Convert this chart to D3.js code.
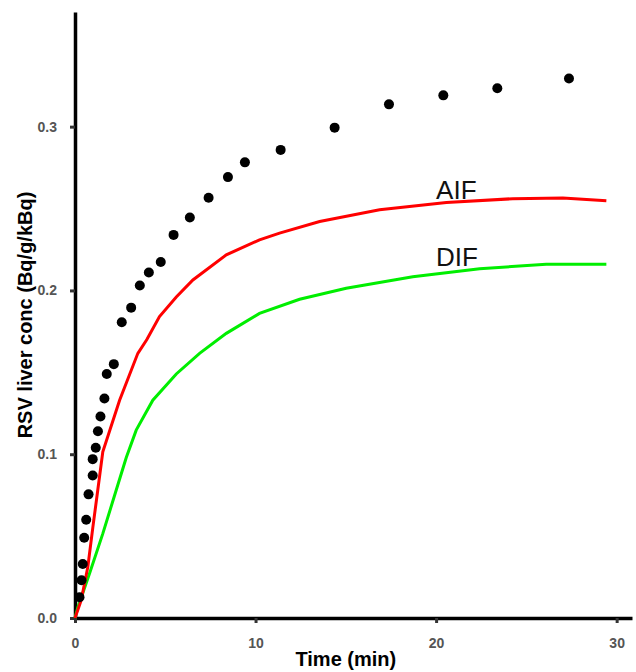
<!DOCTYPE html>
<html>
<head>
<meta charset="utf-8">
<script src="https://cdn.jsdelivr.net/npm/d3@7"></script>
<style>
  body { margin: 0; background: #fff; }
  text { font-family: "Liberation Sans", Arial, sans-serif; }
</style>
</head>
<body>
<svg id="chart" width="636" height="672"></svg>
<script>
// measured data (dots)
const measTime = [0.25, 0.36, 0.43, 0.51, 0.62, 0.75, 0.98, 0.98, 1.15, 1.27, 1.41, 1.63, 1.76, 2.15,
  2.59, 3.11, 3.59, 4.09, 4.75, 5.46, 6.36, 7.40, 8.47, 9.41, 11.39, 14.38, 17.39, 20.40, 23.39, 27.36];
const measConc = [0.0127, 0.023, 0.033, 0.049, 0.060, 0.0755, 0.087, 0.097, 0.104, 0.114, 0.123, 0.134, 0.149, 0.155,
  0.1806, 0.1895, 0.203, 0.211, 0.2174, 0.2339, 0.2445, 0.2566, 0.2692, 0.2782, 0.2858, 0.2994, 0.3136, 0.3191, 0.3234, 0.3294];

// AIF model fit
const aifTime = [0, 0.34, 0.71, 0.99, 1.26, 1.54, 2.47, 3.48, 3.98, 4.68, 5.61, 6.53, 8.38, 10.22, 11.33, 13.55, 16.87, 20.57, 24.25, 27.02, 29.43];
const aifConc = [0, 0.0107, 0.0311, 0.0555, 0.078, 0.1015, 0.133, 0.1616, 0.170, 0.184, 0.196, 0.2064, 0.2217, 0.2309, 0.235, 0.2421, 0.2492, 0.2537, 0.256, 0.2564, 0.2547];

// DIF model fit
const difTime = [0, 0.16, 0.80, 1.54, 2.28, 2.84, 3.39, 4.31, 5.61, 6.90, 8.38, 10.22, 12.44, 15.02, 18.71, 22.41, 26.1, 29.43];
const difConc = [0, 0.0066, 0.027, 0.0515, 0.078, 0.098, 0.1147, 0.133, 0.149, 0.1616, 0.1738, 0.186, 0.1946, 0.2013, 0.2084, 0.2132, 0.216, 0.216];

const xTicks = [0, 10, 20, 30];
const yTicks = [0.0, 0.1, 0.2, 0.3];

const margin = { top: 12, right: 4, bottom: 54, left: 75 };
const width = 636 - margin.left - margin.right;
const height = 672 - margin.top - margin.bottom;

const svg = d3.select("#chart")
  .append("g")
  .attr("transform", "translate(" + margin.left + "," + margin.top + ")");

const x = d3.scaleLinear().domain([0, 30.85]).range([0, width]);
const y = d3.scaleLinear().domain([0, 0.37]).range([height, 0]);

// axes
const xAxis = svg.append("g")
  .attr("transform", "translate(0," + height + ")")
  .call(d3.axisBottom(x).tickValues(xTicks).tickFormat(d3.format("d")).tickSize(5).tickSizeOuter(0));
const yAxis = svg.append("g")
  .call(d3.axisLeft(y).tickValues(yTicks).tickFormat(d3.format(".1f")).tickSize(5).tickSizeOuter(0));

[xAxis, yAxis].forEach(a => {
  a.select(".domain").attr("stroke", "#000").attr("stroke-width", 3.5);
  a.selectAll(".tick line").attr("stroke", "#333").attr("stroke-width", 3);
  a.selectAll(".tick text")
    .attr("fill", "#555")
    .style("font-size", "14px")
    .style("font-weight", "bold");
});
xAxis.selectAll(".tick text").attr("dy", "1.6em");
yAxis.selectAll(".tick text").attr("x", -18);

// axis titles
svg.append("text")
  .attr("x", x(15))
  .attr("y", height + 48)
  .attr("text-anchor", "middle")
  .style("font-size", "20px")
  .style("font-weight", "bold")
  .text("Time (min)");
svg.append("text")
  .attr("transform", "translate(-43," + height / 2 + ") rotate(-90)")
  .attr("text-anchor", "middle")
  .style("font-size", "20px")
  .style("font-weight", "bold")
  .text("RSV liver conc (Bq/g/kBq)");

const line = d3.line()
  .x(d => x(d[0]))
  .y(d => y(d[1]));

svg.append("path")
  .datum(difTime.map((t, i) => [t, difConc[i]]))
  .attr("fill", "none")
  .attr("stroke", "#00ee00")
  .attr("stroke-width", 3)
  .attr("d", line);

svg.append("path")
  .datum(aifTime.map((t, i) => [t, aifConc[i]]))
  .attr("fill", "none")
  .attr("stroke", "#ff0000")
  .attr("stroke-width", 3)
  .attr("d", line);

svg.selectAll(".dot")
  .data(measTime.map((t, i) => [t, measConc[i]]))
  .enter()
  .append("circle")
  .attr("class", "dot")
  .attr("cx", d => x(d[0]))
  .attr("cy", d => y(d[1]))
  .attr("r", 5)
  .attr("fill", "#000");

// curve labels
svg.append("text")
  .attr("x", x(20.0))
  .attr("y", y(0.2558))
  .style("font-size", "26px")
  .attr("fill", "#111")
  .text("AIF");
svg.append("text")
  .attr("x", x(20.0))
  .attr("y", y(0.2147))
  .style("font-size", "26px")
  .attr("fill", "#111")
  .text("DIF");
</script>
</body>
</html>
